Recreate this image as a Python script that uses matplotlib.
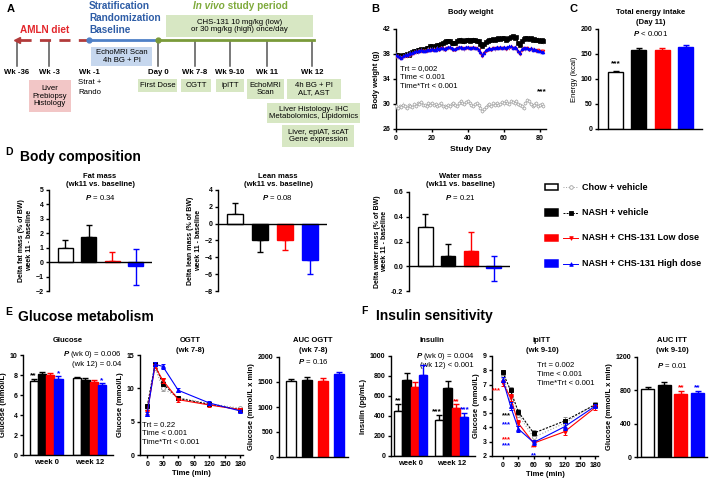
import numpy as np
import matplotlib
matplotlib.use('Agg')
import matplotlib.pyplot as plt
from matplotlib.patches import Rectangle

plt.rcParams['font.family'] = ['Liberation Sans', 'DejaVu Sans']
plt.rcParams['font.weight'] = 'bold'
plt.rcParams['axes.labelweight'] = 'bold'
plt.rcParams['axes.facecolor'] = 'none'
plt.rcParams['mathtext.fontset'] = 'custom'
plt.rcParams['mathtext.it'] = 'Liberation Sans:italic'
plt.rcParams['mathtext.rm'] = 'Liberation Sans'
plt.rcParams['axes.linewidth'] = 1.0
plt.rcParams['xtick.major.width'] = 1.0
plt.rcParams['ytick.major.width'] = 1.0
plt.rcParams['xtick.major.size'] = 2.5
plt.rcParams['ytick.major.size'] = 2.5
plt.rcParams['xtick.labelsize'] = 5
plt.rcParams['ytick.labelsize'] = 5
plt.rcParams['xtick.major.pad'] = 1.5
plt.rcParams['ytick.major.pad'] = 1.5

# ---------------- data ----------------
groups = ["Chow + vehicle", "NASH + vehicle", "NASH + CHS-131 Low dose", "NASH + CHS-131 High dose"]

timeline_labels = ["Wk -36", "Wk -3", "Wk -1", "Day 0", "Wk 7-8", "Wk 9-10", "Wk 11", "Wk 12"]

bw_chow = [29.6,29.4,29.7,29.5,29.9,29.6,29.4,29.8,29.7,29.5,30.0,29.7,30.2,30.0,30.3,29.9,29.8,29.6,30.1,29.9,
           30.2,29.8,30.0,29.7,29.9,30.1,29.6,29.7,29.5,29.8,29.6,30.0,30.2,29.9,29.7,30.1,30.4,30.2,30.0,30.3,
           30.5,30.1,29.9,29.7,30.0,30.2,29.8,29.4,28.9,29.2,29.5,29.8,30.0,29.7,30.1,29.9,30.2,29.8,30.0,30.3,
           30.1,30.4,30.2,30.0,30.5,30.3,30.1,30.4,30.0,29.8,29.6,29.4,30.2,30.6,30.4,30.0,29.7,29.9,30.1,29.6,
           29.8,30.0,29.7]
bw_nash = [37.9,37.8,37.7,37.6,37.8,37.9,38.0,37.9,38.1,38.3,38.4,38.5,38.6,38.7,38.8,38.7,38.8,38.9,39.0,39.2,
           39.3,39.1,39.2,39.4,39.5,39.6,39.8,39.9,40.0,40.1,40.0,39.8,39.7,39.8,40.0,40.2,40.3,40.1,40.0,40.2,
           40.3,40.1,40.2,40.3,40.2,40.1,40.0,39.6,39.3,39.6,39.9,40.1,40.3,40.2,40.4,40.3,40.4,40.5,40.4,40.5,
           40.5,40.3,40.4,40.6,40.7,40.8,40.6,40.7,39.8,39.4,40.0,40.4,40.5,40.6,40.4,40.5,40.3,40.4,40.2,40.3,
           40.1,40.2,40.0]
bw_low = [37.6,37.5,37.4,37.3,37.5,37.6,37.7,37.8,37.9,38.0,38.2,38.3,38.3,38.4,38.5,38.4,38.4,38.5,38.6,38.6,
          38.7,38.6,38.6,38.8,38.7,38.9,38.8,38.7,38.9,39.0,39.0,38.8,38.7,38.7,38.9,39.0,39.0,38.9,38.8,39.0,
          39.0,38.9,38.9,39.0,38.9,38.8,38.6,38.1,37.7,38.1,38.5,38.7,38.8,38.7,38.9,38.8,39.0,38.9,39.0,38.9,
          39.0,38.8,38.9,39.0,39.1,38.9,39.0,38.8,38.3,38.0,38.6,38.9,38.8,38.9,38.7,38.8,38.6,38.7,38.5,38.6,
          38.4,38.5,38.4]
bw_high = [37.8,37.6,37.5,37.4,37.6,37.8,37.9,38.0,38.1,38.1,38.3,38.4,38.4,38.5,38.6,38.5,38.5,38.6,38.7,38.7,
           38.8,38.7,38.7,38.9,38.8,39.0,38.9,38.8,39.0,39.1,39.1,38.9,38.8,38.8,39.0,39.1,39.1,39.0,38.9,39.1,
           39.1,39.0,39.0,39.1,39.0,38.9,38.7,38.3,37.9,38.2,38.6,38.8,38.9,38.8,39.0,38.9,39.1,39.0,39.1,39.0,
           39.1,39.0,39.1,39.2,39.2,39.0,39.1,38.9,38.5,38.2,38.8,39.0,38.9,39.0,38.8,38.9,38.7,38.8,38.6,38.5,
           38.4,38.3,38.3]
bw_sem = [0.35, 0.35, 0.3, 0.35]

energy = [113, 157, 157, 163]
energy_sem = [2, 4, 4, 4]

fat = [0.95, 1.75, 0.1, -0.3]
fat_err_hi = [0.6, 0.85, 0.6, 1.2]
fat_err_lo = [0, 0, 0, 1.25]
lean = [1.1, -1.9, -2.0, -4.3]
lean_err_hi = [1.4, 0, 0, 0]
lean_err_lo = [0, 1.5, 1.1, 1.7]
water = [0.32, 0.085, 0.125, -0.015]
water_err_hi = [0.105, 0.095, 0.15, 0.1]
water_err_lo = [0, 0, 0, 0.105]

week_labels = ["week 0", "week 12"]
glu_wk0 = [7.4, 8.1, 8.0, 7.65]
glu_wk0_sem = [0.25, 0.2, 0.2, 0.3]
glu_wk12 = [7.7, 7.55, 7.3, 7.0]
glu_wk12_sem = [0.15, 0.2, 0.25, 0.25]

time_min = [0, 15, 30, 60, 120, 180]
ogtt_chow = [7.2, 13.1, 10.0, 8.6, 7.7, 7.0]
ogtt_nash = [7.3, 13.6, 10.7, 8.5, 7.6, 6.8]
ogtt_low = [6.5, 13.3, 11.2, 8.3, 7.5, 6.8]
ogtt_high = [6.2, 13.6, 13.3, 9.7, 7.8, 6.6]
ogtt_sem = [0.3, 0.3, 0.4, 0.3, 0.25, 0.2]

auc_ogtt = [1520, 1545, 1525, 1655]
auc_ogtt_sem = [40, 60, 55, 55]

ins_wk0 = [455, 765, 695, 810]
ins_wk0_sem = [70, 65, 50, 100]
ins_wk12 = [365, 685, 480, 395]
ins_wk12_sem = [45, 65, 40, 35]

itt_chow = [7.65, 5.9, 4.9, 3.3, 4.3, 5.65]
itt_nash = [7.85, 6.6, 5.1, 3.6, 4.45, 5.6]
itt_low = [7.1, 6.1, 4.3, 2.9, 3.7, 5.4]
itt_high = [7.35, 5.5, 3.9, 2.95, 4.05, 5.5]
itt_sem = [0.2, 0.25, 0.2, 0.2, 0.25, 0.15]

auc_itt = [815, 860, 755, 765]
auc_itt_sem = [20, 35, 35, 30]

# ---------------- style ----------------
RED = '#FF0000'
BLUE = '#0000FF'
GREY = '#A0A0A0'
bar_face = ['white', 'black', RED, BLUE]
bar_edge = ['black', 'black', RED, BLUE]
line_col = [GREY, 'black', RED, BLUE]
line_err = [GREY, '#888888', RED, BLUE]
line_mk = ['o', 's', 'v', '^']
line_mfc = ['white', 'black', RED, BLUE]
line_ls = [':', (0, (2, 1.2)), '-', '-']

fig = plt.figure(figsize=(7.09, 4.82), dpi=100)
W, H = 709.0, 482.0
ax0 = fig.add_axes([0, 0, 1, 1])
ax0.set_xlim(0, W)
ax0.set_ylim(H, 0)
ax0.axis('off')


def add_ax(x0, y0, x1, y1):
    return fig.add_axes([x0 / W, 1 - y1 / H, (x1 - x0) / W, (y1 - y0) / H])


def T(x, y, s, size=5.5, weight='bold', color='black', ha='center', va='center', style='normal', **kw):
    return ax0.text(x, y, s, fontsize=size, fontweight=weight, color=color, ha=ha, va=va,
                    style=style, **kw)


def box(x0, y0, x1, y1, fc):
    ax0.add_patch(Rectangle((x0, y0), x1 - x0, y1 - y0, facecolor=fc, edgecolor='none', zorder=1))


def style(ax, bottom=True):
    ax.spines['top'].set_visible(False)
    ax.spines['right'].set_visible(False)
    if not bottom:
        ax.spines['bottom'].set_visible(False)
        ax.set_xticks([])
    ax.tick_params(direction='out')


def draw_bars(ax, xs, vals, lo, hi, width):
    for i in range(len(vals)):
        ax.bar(xs[i], vals[i], width=width, color=bar_face[i], edgecolor=bar_edge[i],
               linewidth=1.0, zorder=2)
        ax.errorbar(xs[i], vals[i], yerr=[[lo[i]], [hi[i]]], fmt='none', ecolor=bar_edge[i],
                    elinewidth=1.0, capsize=2.5, capthick=1.0, zorder=1)


def draw_lines(ax, t, series, sem):
    for i, ys in enumerate(series):
        ax.errorbar(t, ys, yerr=sem, color=line_col[i], ecolor=line_err[i], ls=line_ls[i], lw=0.8,
                    marker=line_mk[i], ms=2.8, mfc=line_mfc[i], mec=line_col[i], mew=0.7,
                    elinewidth=0.7, capsize=1.5, capthick=0.7, zorder=3 + i)

# ---------------- Panel A ----------------
GREEN_BOX = '#D7E7C3'
T(11, 9, 'A', size=8)
T(20, 30, 'AMLN diet', size=7.2, color='#E3262B', ha='left')
T(89, 6, 'Stratification', size=7.2, color='#2E5DA6', ha='left')
T(89, 18, 'Randomization', size=7.2, color='#2E5DA6', ha='left')
T(89, 30, 'Baseline', size=7.2, color='#2E5DA6', ha='left')
t_iv = T(193, 6, 'In vivo', size=7.2, color='#7EAA3B', ha='left', style='italic')
ax0.annotate(' study period', xy=(1, 0), xycoords=t_iv, va='bottom', ha='left',
             fontsize=7.2, fontweight='bold', color='#7EAA3B')
box(166, 15, 313, 37, GREEN_BOX)
T(239.5, 26, 'CHS-131 10 mg/kg (low)\nor 30 mg/kg (high) once/day', size=5.6, weight='normal',
  linespacing=1.15)

ax0.plot([20, 89], [40, 40], color='#B23B3B', lw=2, dashes=(4, 3), zorder=2)
ax0.plot([17], [40], marker='<', color='#B23B3B', ms=4, zorder=3)
ax0.plot([89, 158], [40, 40], color='#4F81C7', lw=2, zorder=2)
ax0.plot([89], [40], 'o', color='#4F81C7', ms=3.5, zorder=3)
ax0.plot([158, 314], [40, 40], color='#7A9A3A', lw=2, zorder=2)
ax0.plot([158], [40], 'o', color='#7A9A3A', ms=3.5, zorder=3)
tick_x = [17, 49, 89, 158, 195, 230, 267, 312]
for k, x in enumerate(tick_x):
    if k != 2:
        ax0.plot([x, x], [41, 66], color='#555555', lw=1.1, zorder=1)
    T(x, 73, timeline_labels[k], size=5.6)
box(91, 47, 152, 66, '#C6D7EE')
T(121.5, 56.5, 'EchoMRI Scan\n4h BG + PI', size=5.6, weight='normal', linespacing=1.15, zorder=2)
T(78, 82, 'Strat +', size=5.6, weight='normal', ha='left')
T(78, 92, 'Rando', size=5.6, weight='normal', ha='left')
box(29, 80, 71, 112, '#F2C6C6')
T(50, 96, 'Liver\nPrebiopsy\nHistology', size=5.6, weight='normal', linespacing=1.15, zorder=2)
box(138, 79, 177, 92, GREEN_BOX)
T(157.5, 85.5, 'First Dose', size=5.6, weight='normal', zorder=2)
box(181, 79, 211, 92, GREEN_BOX)
T(196, 85.5, 'OGTT', size=5.6, weight='normal', zorder=2)
box(216, 79, 244, 92, GREEN_BOX)
T(230, 85.5, 'ipITT', size=5.6, weight='normal', zorder=2)
box(247, 79, 284, 99, GREEN_BOX)
T(265.5, 89, 'EchoMRI\nScan', size=5.6, weight='normal', linespacing=1.15, zorder=2)
box(287, 79, 341, 99, GREEN_BOX)
T(314, 89, '4h BG + PI\nALT, AST', size=5.6, weight='normal', linespacing=1.15, zorder=2)
box(267, 103, 360, 123, GREEN_BOX)
T(313.5, 113, 'Liver Histology- IHC\nMetabolomics, Lipidomics', size=5.6, weight='normal',
  linespacing=1.15, zorder=2)
box(282, 125, 354, 147, GREEN_BOX)
T(318, 136, 'Liver, epiAT, scAT\nGene expression', size=5.6, weight='normal', linespacing=1.15, zorder=2)

# ---------------- Panel B ----------------
T(375, 9, 'B', size=8)
T(471, 13, 'Body weight', size=5.5)
axB = add_ax(396, 29, 546, 129)
style(axB)
n = min(len(bw_chow), len(bw_nash), len(bw_low), len(bw_high))
days = list(range(n))
bw_series = [bw_chow[:n], bw_nash[:n], bw_low[:n], bw_high[:n]]
bw_err_col = ['#C8C8C8', '#B0B0B0', '#FF9C9C', '#9C9CFF']
bw_ms = [2.0, 2.4, 2.0, 2.0]
for i in [0, 3, 2, 1]:
    axB.errorbar(days, bw_series[i], yerr=bw_sem[i], color=line_col[i], ecolor=bw_err_col[i],
                 ls='-' if i else ':', lw=0.7 if i else 0.5,
                 marker=line_mk[i], ms=bw_ms[i], mfc=line_mfc[i], mec=line_col[i], mew=0.5,
                 elinewidth=0.5, capsize=0, zorder=3 + i)
axB.set_xlim(0, 83.5)
axB.set_ylim(26, 42)
axB.set_yticks([26, 30, 34, 38, 42])
axB.set_xticks([0, 20, 40, 60, 80])
axB.set_ylabel('Body weight (g)', fontsize=5.5, labelpad=2)
axB.set_xlabel('Study Day', fontsize=6, labelpad=3)
axB.text(2.5, 36.2, 'Trt = 0,002\nTime < 0.001\nTime*Trt < 0.001', fontsize=5.6, fontweight='normal',
         va='top', ha='left', linespacing=1.35)
axB.text(81, 32.0, '***', fontsize=6, ha='center', va='center')

# ---------------- Panel C ----------------
T(573, 9, 'C', size=8)
T(651, 13, 'Total energy intake', size=5.5)
T(651, 22, '(Day 11)', size=5.5)
T(651, 34, r'$\mathit{P}$ < 0.001', size=5.6, weight='normal')
axC = add_ax(598, 29, 702, 129)
style(axC)
xs4 = [0, 1, 2, 3]
draw_bars(axC, xs4, energy, [0, 0, 0, 0], energy_sem, 0.65)
axC.set_xticks([])
axC.set_xlim(-0.75, 3.7)
axC.set_ylim(0, 200)
axC.set_yticks([0, 50, 100, 150, 200])
axC.set_ylabel('Energy (kcal)', fontsize=5.5, fontweight='normal', labelpad=2)
axC.text(0, 131, '***', fontsize=6, ha='center', va='center')

# ---------------- Panel D ----------------
T(9, 152, 'D', size=7.5)
T(20, 157, 'Body composition', size=10, ha='left')

def dpanel(box_px, vals, lo, hi, ylim, yticks, ylab, title_x, ptxt, fmt=None):
    ax = add_ax(*box_px)
    style(ax, bottom=False)
    draw_bars(ax, xs4, vals, lo, hi, 0.65)
    ax.axhline(0, color='black', lw=1.0, zorder=4)
    ax.set_xlim(-0.7, 3.7)
    ax.set_ylim(*ylim)
    ax.set_yticks(yticks)
    if fmt:
        ax.set_yticklabels([fmt.format(v) for v in yticks])
    ax.set_ylabel(ylab, fontsize=5, labelpad=2, linespacing=1.1)
    T(title_x, 198, ptxt, size=5.6, weight='normal')
    return ax

T(100, 176, 'Fat mass', size=5.5)
T(100, 185, '(wk11 vs. baseline)', size=5.5)
dpanel((49, 190, 152, 291), fat, fat_err_lo, fat_err_hi, (-2, 5), [-2, -1, 0, 1, 2, 3, 4, 5],
       'Delta fat mass (% of BW)\nweek 11 - baseline', 100, r'$\mathit{P}$ = 0.34')
T(278, 176, 'Lean mass', size=5.5)
T(278, 185, '(wk11 vs. baseline)', size=5.5)
dpanel((218, 190, 327, 291), lean, lean_err_lo, lean_err_hi, (-8, 4), [-8, -6, -4, -2, 0, 2, 4],
       'Delta lean mass (% of BW)\nweek 11 - baseline', 277, r'$\mathit{P}$ = 0.08')
T(460, 176, 'Water mass', size=5.5)
T(460, 185, '(wk11 vs. baseline)', size=5.5)
dpanel((409, 192, 510, 291), water, water_err_lo, water_err_hi, (-0.2, 0.6), [-0.2, 0.0, 0.2, 0.4, 0.6],
       'Delta water mass (% of BW)\nweek 11 - baseline', 460, r'$\mathit{P}$ = 0.21', fmt='{:.1f}')

# legend
leg_y = [187, 212.5, 238, 263.5]
for i in range(4):
    y = leg_y[i]
    ax0.add_patch(Rectangle((545, y - 3.2), 12.5, 6.4, facecolor=bar_face[i], edgecolor=bar_edge[i],
                            lw=1.1, zorder=2))
    ax0.plot([563, 578], [y, y], color=line_col[i], ls=line_ls[i], lw=0.7, zorder=2)
    ax0.plot([570.5], [y], marker=line_mk[i], ms=2.6, color=line_col[i], mfc=line_mfc[i],
             mew=0.6, zorder=3)
    T(582, y, groups[i], size=6.5, ha='left')

# ---------------- Panel E ----------------
T(9, 312, 'E', size=7.5)
T(18, 317, 'Glucose metabolism', size=10, ha='left')

bw_grp = 0.19
offs = [-1.5, -0.5, 0.5, 1.5]

def grouped(ax, wk0, wk0s, wk12, wk12s):
    for g, (vals, sems) in enumerate([(wk0, wk0s), (wk12, wk12s)]):
        xs = [g + o * bw_grp for o in offs]
        draw_bars(ax, xs, vals, [0, 0, 0, 0], sems, bw_grp)
    ax.set_xticks([0, 1])
    ax.set_xticklabels(week_labels, fontsize=5.5)
    ax.tick_params(axis='x', length=0, pad=3)

T(68, 340, 'Glucose', size=5.5)
axE1 = add_ax(23, 355, 113, 455)
style(axE1)
grouped(axE1, glu_wk0, glu_wk0_sem, glu_wk12, glu_wk12_sem)
axE1.set_xlim(-0.53, 1.54)
axE1.set_ylim(0, 10)
axE1.set_yticks([0, 2, 4, 6, 8, 10])
axE1.set_ylabel('Glucose (mmol/L)', fontsize=5.5, labelpad=2)
T(121, 355, r'$\mathit{P}$ (wk 0) = 0.006', size=5.6, weight='normal', ha='right')
T(121, 365, '(wk 12) = 0.04', size=5.6, weight='normal', ha='right')
axE1.text(0 + offs[0] * bw_grp, 7.95, '**', fontsize=6, ha='center', va='center')
axE1.text(0 + offs[3] * bw_grp, 8.15, '*', fontsize=6, ha='center', va='center', color=BLUE)
axE1.text(1 + offs[3] * bw_grp, 7.45, '*', fontsize=6, ha='center', va='center', color=BLUE)

T(190, 340, 'OGTT', size=5.5)
T(190, 350, '(wk 7-8)', size=5.5)
axE2 = add_ax(140, 355, 243, 455)
style(axE2)
draw_lines(axE2, time_min, [ogtt_chow, ogtt_nash, ogtt_low, ogtt_high], ogtt_sem)
axE2.set_xlim(-14, 185)
axE2.set_ylim(0, 15)
axE2.set_xticks([0, 30, 60, 90, 120, 150, 180])
axE2.set_yticks([0, 5, 10, 15])
axE2.set_ylabel('Glucose (mmol/L)', fontsize=5.5, labelpad=2)
axE2.set_xlabel('Time (min)', fontsize=5.5, labelpad=2)
axE2.text(-10, 5.0, 'Trt = 0.22\nTime < 0.001\nTime*Trt < 0.001', fontsize=5.6, fontweight='normal',
          va='top', ha='left', linespacing=1.35)

T(313, 341, 'AUC OGTT', size=5.5)
T(313, 351, '(wk 7-8)', size=5.5)
T(313, 362, r'$\mathit{P}$ = 0.16', size=5.6, weight='normal')
axE3 = add_ax(279, 357, 348, 457)
style(axE3)
draw_bars(axE3, xs4, auc_ogtt, [0, 0, 0, 0], auc_ogtt_sem, 0.64)
axE3.set_xticks([])
axE3.set_xlim(-0.75, 3.56)
axE3.set_ylim(0, 2000)
axE3.set_yticks([0, 500, 1000, 1500, 2000])
axE3.set_ylabel('Glucose (mmol/L x min)', fontsize=5.5, labelpad=2)

# ---------------- Panel F ----------------
T(364, 311, 'F', size=7.5)
T(376, 316, 'Insulin sensitivity', size=10, ha='left')

T(432, 341, 'Insulin', size=5.5)
axF1 = add_ax(391, 356, 475, 456)
style(axF1)
bw_grp2 = 0.2
offs2 = [-1.5, -0.5, 0.5, 1.5]
for g, (vals, sems) in enumerate([(ins_wk0, ins_wk0_sem), (ins_wk12, ins_wk12_sem)]):
    xs = [g + o * bw_grp2 for o in offs2]
    draw_bars(axF1, xs, vals, [0, 0, 0, 0], sems, bw_grp2)
axF1.set_xticks([0, 1])
axF1.set_xticklabels(week_labels, fontsize=5.5)
axF1.tick_params(axis='x', length=0, pad=3)
axF1.set_xlim(-0.48, 1.57)
axF1.set_ylim(0, 1000)
axF1.set_yticks([0, 200, 400, 600, 800, 1000])
axF1.set_ylabel('Insulin (pg/mL)', fontsize=5.5, labelpad=2)
T(474, 356, r'$\mathit{P}$ (wk 0) = 0.004', size=5.6, weight='normal', ha='right')
T(474, 365.5, '(wk 12) < 0.001', size=5.6, weight='normal', ha='right')
axF1.text(0 + offs2[0] * bw_grp2, 555, '**', fontsize=6, ha='center', va='center')
axF1.text(1 + offs2[0] * bw_grp2 - 0.06, 440, '***', fontsize=6, ha='center', va='center')
axF1.text(1 + offs2[2] * bw_grp2, 540, '**', fontsize=6, ha='center', va='center', color=RED)
axF1.text(1 + offs2[3] * bw_grp2 + 0.03, 462, '***', fontsize=6, ha='center', va='center', color=BLUE)

T(542, 341, 'ipITT', size=5.5)
T(542, 350, '(wk 9-10)', size=5.5)
axF2 = add_ax(492, 356, 598, 456)
style(axF2)
draw_lines(axF2, time_min, [itt_chow, itt_nash, itt_low, itt_high], itt_sem)
axF2.set_xlim(-21, 185)
axF2.set_ylim(2, 9)
axF2.set_xticks([0, 30, 60, 90, 120, 150, 180])
axF2.set_yticks([2, 3, 4, 5, 6, 7, 8, 9])
axF2.set_ylabel('Glucose (mmol/L)', fontsize=5.5, labelpad=2)
axF2.set_xlabel('Time (min)', fontsize=5.5, labelpad=2)
axF2.text(66, 8.55, 'Trt = 0.002\nTime < 0.001\nTime*Trt < 0.001', fontsize=5.6, fontweight='normal',
          va='top', ha='left', linespacing=1.35)
itt_stars = [('***', -12, 6.6, RED), ('*', 16, 5.8, RED), ('***', 8, 4.85, 'black'),
             ('*', 30, 4.35, 'black'), ('***', 8, 4.2, BLUE), ('***', 8, 3.15, RED),
             ('***', 8, 2.7, BLUE), ('**', 60, 2.55, RED), ('**', 60, 2.02, BLUE)]
for s, x, y, c in itt_stars:
    axF2.text(x, y, s, fontsize=5.5, ha='center', va='center', color=c, clip_on=False)

T(672, 341, 'AUC ITT', size=5.5)
T(672, 351, '(wk 9-10)', size=5.5)
T(672, 365, r'$\mathit{P}$ = 0.01', size=5.6, weight='normal')
axF3 = add_ax(637, 357, 707, 457)
style(axF3)
draw_bars(axF3, xs4, auc_itt, [0, 0, 0, 0], auc_itt_sem, 0.78)
axF3.set_xticks([])
axF3.set_xlim(-0.63, 3.56)
axF3.set_ylim(0, 1200)
axF3.set_yticks([0, 400, 800, 1200])
axF3.set_ylabel('Glucose (mmol/L x min)', fontsize=5.5, labelpad=2)
axF3.text(2, 830, '**', fontsize=6, ha='center', va='center', color=RED)
axF3.text(3, 830, '**', fontsize=6, ha='center', va='center', color=BLUE)

fig.savefig('out.png', dpi=100)
